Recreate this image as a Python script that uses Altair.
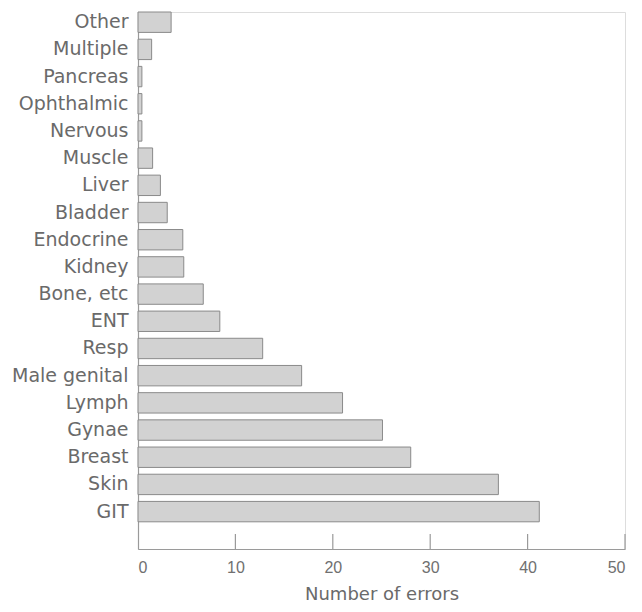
import altair as alt
import pandas as pd

categories = ["Other", "Multiple", "Pancreas", "Ophthalmic", "Nervous", "Muscle",
              "Liver", "Bladder", "Endocrine", "Kidney", "Bone, etc", "ENT", "Resp",
              "Male genital", "Lymph", "Gynae", "Breast", "Skin", "GIT"]
errors = [3.4, 1.4, 0.4, 0.4, 0.4, 1.5, 2.3, 3.0, 4.6, 4.7, 6.7, 8.4, 12.8,
          16.8, 21.0, 25.1, 28.0, 37.0, 41.2]
tick_values = [10, 20, 30, 40, 50]

W, H = 487, 537
df = pd.DataFrame({"cat": categories, "n": errors})
ticks = pd.DataFrame({"t": tick_values})

xscale = alt.Scale(domain=[0, 50], nice=False, zero=True)

bars = alt.Chart(df).mark_bar(
    fill="#d2d2d2", stroke="#8a8a8a", strokeWidth=1
).encode(
    x=alt.X("n:Q", scale=xscale,
            axis=alt.Axis(title="Number of errors", values=[0, 10, 20, 30, 40, 50],
                          grid=False, ticks=False, labelPadding=10,
                          labelFont="Liberation Sans", labelFontSize=16,
                          labelColor="#707070", titleFont="DejaVu Sans",
                          titleFontSize=18, titleFontWeight="normal",
                          titleColor="#6a6a6a", titlePadding=10,
                          domainColor="#9a9a9a", domainWidth=1.2)),
    y=alt.Y("cat:N", sort=categories,
            scale=alt.Scale(paddingInner=0.25, paddingOuter=0.5, align=0),
            axis=alt.Axis(title=None, ticks=False, labelPadding=10,
                          labelFont="DejaVu Sans", labelFontSize=19,
                          labelColor="#6a6a6a", domainColor="#9a9a9a",
                          domainWidth=1.2)),
)

tick_rules = alt.Chart(ticks).mark_rule(color="#9a9a9a", strokeWidth=1.2).encode(
    x=alt.X("t:Q", scale=xscale),
    y=alt.value(H - 15),
    y2=alt.value(H),
)

chart = alt.layer(bars, tick_rules).properties(
    width=W, height=H,
    autosize=alt.AutoSizeParams(type="none"),
    padding={"left": 130, "top": 4, "right": 9, "bottom": 55},
).configure_view(stroke=None).configure(background="white")

chart.save("out.html", embed_options={"renderer": "svg", "actions": False})
